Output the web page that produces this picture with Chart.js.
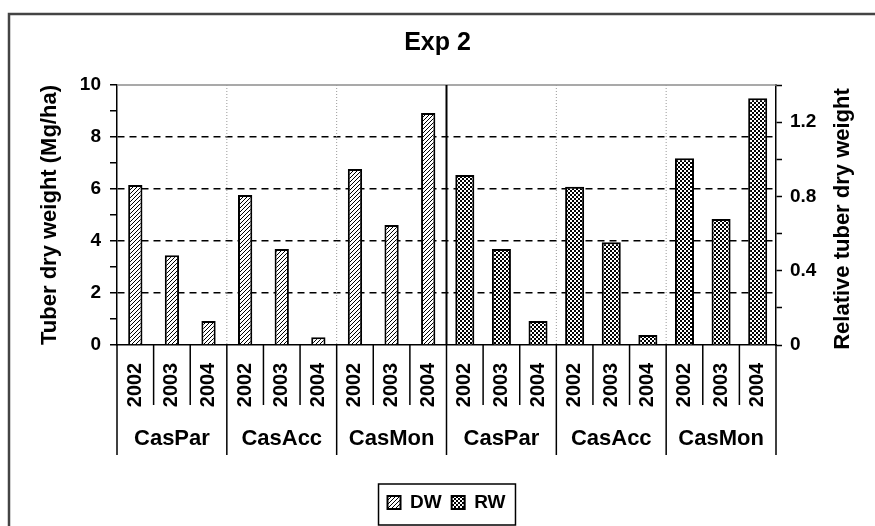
<!DOCTYPE html>
<html>
<head>
<meta charset="utf-8">
<script src="https://cdn.jsdelivr.net/npm/chart.js@4.4.1/dist/chart.umd.min.js"></script>
<style>
  html, body { margin: 0; padding: 0; background: #fff; }
</style>
</head>
<body>
<canvas id="Chart" width="875" height="526"></canvas>
<script>
const groups = ['CasPar', 'CasAcc', 'CasMon', 'CasPar', 'CasAcc', 'CasMon'];
const years = ['2002', '2003', '2004'];
const dwValues = [6.15, 3.45, 0.92, 5.77, 3.69, 0.30, 6.77, 4.62, 8.92];
const rwValues = [0.915, 0.517, 0.129, 0.852, 0.553, 0.054, 1.005, 0.678, 1.328];
const leftTicks = [0, 2, 4, 6, 8, 10];
const rightTicks = [0, 0.4, 0.8, 1.2];

const FONT = "'Liberation Sans', Arial, sans-serif";
const labels = [];
groups.forEach(g => years.forEach(y => labels.push(g + ' ' + y)));

// fill patterns for the two series
function hatchPattern() {
  const c = document.createElement('canvas');
  c.width = 4; c.height = 4;
  const g = c.getContext('2d');
  g.fillStyle = '#fff'; g.fillRect(0, 0, 4, 4);
  g.strokeStyle = '#000'; g.lineWidth = 1;
  g.beginPath();
  g.moveTo(0, 4); g.lineTo(4, 0);
  g.moveTo(-1, 1); g.lineTo(1, -1);
  g.moveTo(3, 5); g.lineTo(5, 3);
  g.stroke();
  return g.createPattern(c, 'repeat');
}
function checkPattern() {
  const c = document.createElement('canvas');
  c.width = 4; c.height = 4;
  const g = c.getContext('2d');
  g.fillStyle = '#fff'; g.fillRect(0, 0, 4, 4);
  g.fillStyle = '#000';
  g.fillRect(0, 0, 2, 2); g.fillRect(2, 2, 2, 2);
  return g.createPattern(c, 'repeat');
}

const decor = {
  id: 'decor',
  beforeDraw(chart) {
    const ctx = chart.ctx;
    ctx.save();
    ctx.fillStyle = '#fff';
    ctx.fillRect(0, 0, chart.width, chart.height);
    ctx.strokeStyle = '#444'; ctx.lineWidth = 2.5;
    ctx.strokeRect(9, 14, chart.width + 20, chart.height + 20);
    ctx.restore();
  },
  beforeDatasetsDraw(chart) {
    const {ctx, chartArea: a, scales: {x}} = chart;
    const step = x.getPixelForValue(1) - x.getPixelForValue(0);
    ctx.save();
    ctx.strokeStyle = '#8c8c8c'; ctx.lineWidth = 1.5;
    ctx.beginPath(); ctx.moveTo(a.left, a.top); ctx.lineTo(a.right, a.top); ctx.stroke();
    for (let i = 3; i < labels.length; i += 3) {
      const px = x.getPixelForValue(i) - step / 2;
      if (i === labels.length / 2) {
        ctx.setLineDash([]); ctx.strokeStyle = '#000'; ctx.lineWidth = 2;
      } else {
        ctx.setLineDash([1, 2]); ctx.strokeStyle = '#999'; ctx.lineWidth = 1;
      }
      ctx.beginPath(); ctx.moveTo(px, a.top); ctx.lineTo(px, a.bottom); ctx.stroke();
    }
    ctx.restore();
  },
  afterDraw(chart) {
    const {ctx, chartArea: a, scales: {x}} = chart;
    const step = x.getPixelForValue(1) - x.getPixelForValue(0);
    ctx.save();
    ctx.strokeStyle = '#000'; ctx.lineWidth = 1.5;
    for (let i = 0; i <= labels.length; i++) {
      const px = x.getPixelForValue(i) - step / 2;
      const len = i % 3 === 0 ? 110 : 60;
      ctx.beginPath(); ctx.moveTo(px, a.bottom); ctx.lineTo(px, a.bottom + len); ctx.stroke();
    }
    ctx.fillStyle = '#000';
    ctx.textAlign = 'center'; ctx.textBaseline = 'middle';
    ctx.font = 'bold 20px ' + FONT;
    labels.forEach((l, i) => {
      ctx.save();
      ctx.translate(x.getPixelForValue(i), a.bottom + 40);
      ctx.rotate(-Math.PI / 2);
      ctx.fillText(years[i % 3], 0, 0);
      ctx.restore();
    });
    ctx.font = 'bold 22px ' + FONT;
    groups.forEach((g, k) => {
      ctx.fillText(g, x.getPixelForValue(k * 3 + 1), a.bottom + 94);
    });
    // right axis title reads bottom to top
    ctx.save();
    ctx.translate(843, (a.top + a.bottom) / 2 + 4);
    ctx.rotate(-Math.PI / 2);
    ctx.fillText('Relative tuber dry weight', 0, 0);
    ctx.restore();
    // frame round the legend
    const lg = chart.legend;
    const hb = lg.legendHitBoxes;
    const last = hb[hb.length - 1];
    const left = hb[0].left - 9;
    const right = last.left + last.width + 10;
    ctx.lineWidth = 1.5;
    ctx.strokeRect(left, lg.top + 1, right - left, 41);
    ctx.restore();
  }
};

const ctx = document.getElementById('Chart');
const myChart = new Chart(ctx, {
  type: 'bar',
  data: {
    labels: labels,
    datasets: [{
      label: 'DW',
      data: dwValues.concat(rwValues.map(() => null)),
      yAxisID: 'y',
      backgroundColor: hatchPattern(),
      borderColor: '#000',
      borderWidth: 2,
      grouped: false,
      barPercentage: 0.39,
      categoryPercentage: 1
    }, {
      label: 'RW',
      data: dwValues.map(() => null).concat(rwValues),
      yAxisID: 'y1',
      backgroundColor: checkPattern(),
      borderColor: '#000',
      borderWidth: 2,
      grouped: false,
      barPercentage: 0.52,
      categoryPercentage: 1
    }]
  },
  options: {
    responsive: false,
    animation: false,
    layout: { padding: { top: 0, left: 0, right: 0, bottom: 4 } },
    plugins: {
      title: {
        display: true,
        text: 'Exp 2',
        color: '#000',
        font: { family: FONT, size: 25, weight: 'bold' },
        padding: { top: 28, bottom: 27 }
      },
      legend: {
        position: 'bottom',
        fullSize: false,
        labels: {
          color: '#000',
          font: { family: FONT, size: 19, weight: 'bold' },
          boxWidth: 13,
          boxHeight: 13,
          padding: 10
        }
      },
      tooltip: { enabled: false }
    },
    scales: {
      x: {
        offset: true,
        ticks: { display: false },
        grid: { color: 'transparent', drawTicks: false },
        border: { color: '#000', width: 1.5 },
        afterFit(s) { s.height = 138; }
      },
      y: {
        position: 'left',
        min: 0,
        max: 10,
        ticks: {
          stepSize: 1,
          autoSkip: false,
          padding: 9,
          color: '#000',
          font: { family: FONT, size: 19, weight: 'bold' },
          callback: v => leftTicks.includes(v) ? String(v) : ''
        },
        grid: {
          color: c => (c.tick && c.tick.value > 0 && c.tick.value < 10 && c.tick.value % 2 === 0) ? '#000' : 'transparent',
          lineWidth: 1.5,
          tickColor: '#000',
          tickLength: 7,
          tickWidth: 1.5
        },
        border: { color: '#000', width: 1.5, dash: [7, 5] },
        title: {
          display: true,
          text: 'Tuber dry weight (Mg/ha)',
          color: '#000',
          font: { family: FONT, size: 22, weight: 'bold' },
          padding: { top: 37, bottom: 0 }
        },
        afterFit(s) { s.width = 117; }
      },
      y1: {
        position: 'right',
        min: 0,
        max: 1.4,
        ticks: {
          stepSize: 0.2,
          autoSkip: false,
          padding: 8,
          color: '#000',
          font: { family: FONT, size: 19, weight: 'bold' },
          callback: v => {
            const t = rightTicks.find(r => Math.abs(r - v) < 1e-6);
            return t === undefined ? '' : String(t);
          }
        },
        grid: { drawOnChartArea: false, tickColor: '#000', tickLength: 6, tickWidth: 1.5 },
        border: { color: '#000', width: 1.5 },
        afterFit(s) { s.width = 99; }
      }
    }
  },
  plugins: [decor]
});
</script>
</body>
</html>
